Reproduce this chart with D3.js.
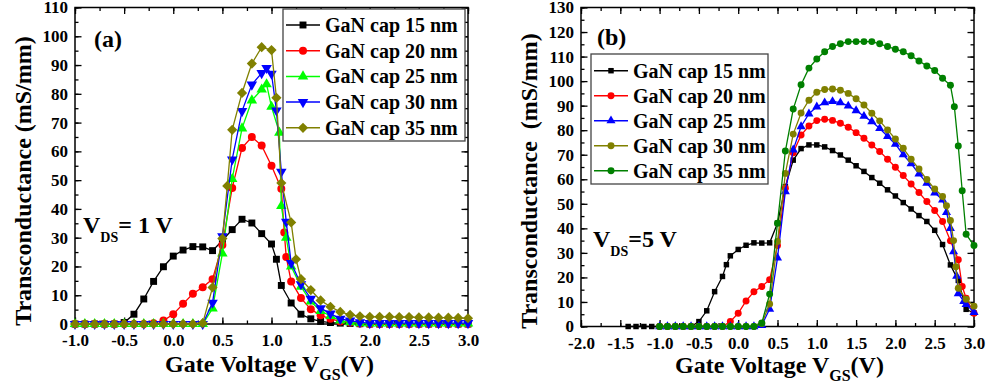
<!DOCTYPE html>
<html>
<head>
<meta charset="utf-8">
<script src="https://cdn.jsdelivr.net/npm/d3@7"></script>
<style>
  body { margin: 0; background: #fff; }
  text { font-family: "Liberation Serif", "Times New Roman", serif; font-weight: bold; fill: #000; }
  .tick text { font-size: 17px; }
</style>
</head>
<body>
<div id="chart"></div>
<script>
(function (d3) {
  'use strict';

  const capLabels = ["GaN cap 15 nm", "GaN cap 20 nm", "GaN cap 25 nm", "GaN cap 30 nm", "GaN cap 35 nm"];

  // panel (a), VDS = 1 V : [VGS (V), gm (mS/mm)]
  const gmA15 = [[-1.0,0],[-0.9,0],[-0.8,0],[-0.7,0],[-0.6,0],[-0.5,0.5],[-0.4,3.4],[-0.3,8.7],[-0.2,14.8],[-0.1,19.9],[0.0,23.6],[0.1,25.7],[0.2,26.9],[0.3,26.8],[0.4,25.5],[0.5,29.0],[0.6,32.8],[0.7,36.4],[0.8,35.1],[0.9,31.4],[1.0,27.8],[1.05,22.5],[1.1,13.4],[1.2,7.3],[1.3,3.4],[1.4,1.8],[1.5,0.9],[1.6,0.5],[1.7,0.3],[1.8,0.2],[1.9,0.1],[2.0,0],[2.1,0],[2.2,0],[2.3,0],[2.4,0],[2.5,0],[2.6,0],[2.7,0],[2.8,0],[2.9,0],[3.0,0]];
  const gmA20 = [[-1.0,0],[-0.9,0],[-0.8,0],[-0.7,0],[-0.6,0],[-0.5,0],[-0.4,0],[-0.3,0],[-0.2,0.3],[-0.1,1.2],[0.0,3.4],[0.1,7.0],[0.2,10.5],[0.3,12.8],[0.4,15.6],[0.5,27.5],[0.6,47.3],[0.7,61.2],[0.8,65.0],[0.9,62.0],[1.0,55.0],[1.1,47.0],[1.13,31.8],[1.15,23.3],[1.2,14.8],[1.3,9.0],[1.4,5.1],[1.5,3.0],[1.6,1.8],[1.7,0.9],[1.8,0.5],[1.9,0.2],[2.0,0],[2.1,0],[2.2,0],[2.3,0],[2.4,0],[2.5,0],[2.6,0],[2.7,0],[2.8,0],[2.9,0],[3.0,0]];
  const gmA25 = [[-1.0,0],[-0.9,0],[-0.8,0],[-0.7,0],[-0.6,0],[-0.5,0],[-0.4,0],[-0.3,0],[-0.2,0],[-0.1,0],[0.0,0],[0.1,0],[0.2,0],[0.3,0],[0.4,5.4],[0.5,24.5],[0.6,50.4],[0.7,68.0],[0.8,77.7],[0.9,81.5],[0.95,83.3],[1.0,75.5],[1.08,66.5],[1.1,41.0],[1.15,30.0],[1.2,20.0],[1.3,13.0],[1.4,7.8],[1.5,4.5],[1.6,2.8],[1.7,1.2],[1.8,0.6],[1.9,0.3],[2.0,0.2],[2.1,0.2],[2.2,0.2],[2.3,0.2],[2.4,0.2],[2.5,0.2],[2.6,0.2],[2.7,0.2],[2.8,0.2],[2.9,0.2],[3.0,0.2]];
  const gmA30 = [[-1.0,0],[-0.9,0],[-0.8,0],[-0.7,0],[-0.6,0],[-0.5,0],[-0.4,0],[-0.3,0],[-0.2,0],[-0.1,0],[0.0,0],[0.1,0],[0.2,0],[0.3,0],[0.4,7.4],[0.5,30.5],[0.6,57.2],[0.7,74.0],[0.8,83.2],[0.9,87.2],[0.95,89.0],[1.0,87.0],[1.05,74.2],[1.1,52.9],[1.15,35.5],[1.2,21.2],[1.3,13.8],[1.4,8.8],[1.5,5.5],[1.6,3.6],[1.7,1.8],[1.8,1.2],[1.9,0.6],[2.0,0.3],[2.1,0.3],[2.2,0.3],[2.3,0.3],[2.4,0.3],[2.5,0.3],[2.6,0.3],[2.7,0.3],[2.8,0.3],[2.9,0.3],[3.0,0.3]];
  const gmA35 = [[-1.0,0],[-0.9,0],[-0.8,0],[-0.7,0],[-0.6,0],[-0.5,0],[-0.4,0],[-0.3,0],[-0.2,0],[-0.1,0],[0.0,0],[0.1,0],[0.2,0],[0.3,0.3],[0.4,12.7],[0.5,29.7],[0.55,48.0],[0.6,67.5],[0.7,80.3],[0.8,90.5],[0.9,96.2],[1.0,95.2],[1.05,78.6],[1.1,49.0],[1.2,35.3],[1.25,22.5],[1.3,15.6],[1.4,11.8],[1.5,8.2],[1.6,6.0],[1.7,4.2],[1.8,3.2],[1.9,2.7],[2.0,2.5],[2.1,2.5],[2.2,2.5],[2.3,2.4],[2.4,2.4],[2.5,2.3],[2.6,2.3],[2.7,2.2],[2.8,2.2],[2.9,2.1],[3.0,2.0]];

  // panel (b), VDS = 5 V
  const gmB15 = [[-1.4,0],[-1.3,0],[-1.2,0],[-1.1,0],[-1.0,0],[-0.9,0],[-0.8,0],[-0.7,0],[-0.6,0],[-0.5,2.0],[-0.4,6.4],[-0.3,14.2],[-0.2,20.4],[-0.15,25.2],[-0.1,28.8],[0.0,31.4],[0.1,33.1],[0.2,34.1],[0.3,34.0],[0.4,34.1],[0.5,42.1],[0.6,57.0],[0.7,67.8],[0.8,72.5],[0.9,74.0],[1.0,74.0],[1.1,73.2],[1.2,71.7],[1.3,69.9],[1.4,67.8],[1.5,65.5],[1.6,63.2],[1.7,60.7],[1.8,58.4],[1.9,55.7],[2.0,53.2],[2.1,50.5],[2.2,47.9],[2.3,45.2],[2.4,42.8],[2.5,39.2],[2.6,33.4],[2.7,25.1],[2.8,18.8],[2.9,7.0],[3.0,5.5]];
  const gmB20 = [[-1.0,0],[-0.9,0],[-0.8,0],[-0.7,0],[-0.6,0],[-0.5,0],[-0.4,0],[-0.3,0],[-0.2,0],[-0.1,2.0],[0.0,5.4],[0.1,10.4],[0.2,14.2],[0.3,16.3],[0.4,19.1],[0.5,33.0],[0.6,56.3],[0.7,70.8],[0.8,78.0],[0.9,81.7],[1.0,83.9],[1.1,84.5],[1.2,84.0],[1.3,82.8],[1.4,81.2],[1.5,79.0],[1.6,76.7],[1.7,74.0],[1.8,71.3],[1.9,68.2],[2.0,64.9],[2.1,61.5],[2.2,58.1],[2.3,54.6],[2.4,50.9],[2.5,47.3],[2.6,42.8],[2.7,34.9],[2.8,27.2],[2.85,16.3],[2.9,11.5],[3.0,5.4]];
  const gmB25 = [[-1.0,0],[-0.9,0],[-0.8,0],[-0.7,0],[-0.6,0],[-0.5,0],[-0.4,0],[-0.3,0],[-0.2,0],[-0.1,0],[0.0,0],[0.1,0],[0.2,0],[0.3,0.5],[0.4,7.1],[0.5,28.0],[0.6,55.0],[0.7,72.0],[0.8,81.5],[0.9,86.7],[1.0,89.5],[1.1,91.2],[1.2,91.7],[1.3,91.2],[1.4,89.9],[1.5,88.0],[1.6,85.7],[1.7,83.5],[1.8,80.7],[1.9,77.5],[2.0,74.3],[2.1,70.0],[2.2,66.4],[2.3,62.2],[2.4,58.4],[2.5,54.5],[2.6,51.6],[2.65,46.5],[2.7,40.0],[2.74,30.5],[2.78,20.5],[2.8,13.4],[2.87,10.2],[2.9,9.0],[3.0,5.8]];
  const gmB30 = [[-1.0,0],[-0.9,0],[-0.8,0],[-0.7,0],[-0.6,0],[-0.5,0],[-0.4,0],[-0.3,0],[-0.2,0],[-0.1,0],[0.0,0],[0.1,0],[0.2,0],[0.3,1.2],[0.4,9.2],[0.5,34.6],[0.6,62.4],[0.7,78.4],[0.8,87.0],[0.9,92.2],[1.0,95.5],[1.1,96.6],[1.2,96.8],[1.3,96.3],[1.4,95.0],[1.5,92.8],[1.6,90.3],[1.7,86.9],[1.8,83.8],[1.9,80.1],[2.0,76.4],[2.1,72.6],[2.2,68.2],[2.3,64.2],[2.4,59.9],[2.5,56.0],[2.6,53.0],[2.65,49.2],[2.7,43.2],[2.74,35.0],[2.77,24.4],[2.8,15.6],[2.9,11.1],[3.0,8.3]];
  const gmB35 = [[-1.0,0],[-0.9,0],[-0.8,0],[-0.7,0],[-0.6,0],[-0.5,0],[-0.4,0],[-0.3,0],[-0.2,0],[-0.1,0],[0.0,0],[0.1,0],[0.2,0],[0.3,1.4],[0.4,13.2],[0.5,42.1],[0.6,71.5],[0.7,88.6],[0.8,98.5],[0.9,105.3],[1.0,109.0],[1.1,112.0],[1.2,114.1],[1.3,115.2],[1.4,116.1],[1.5,116.1],[1.6,116.1],[1.7,116.1],[1.8,115.2],[1.9,114.1],[2.0,113.0],[2.1,112.0],[2.2,110.3],[2.3,108.2],[2.4,106.2],[2.5,104.3],[2.6,101.2],[2.7,98.3],[2.75,89.6],[2.8,73.6],[2.85,55.3],[2.9,37.6],[3.0,33.0]];

  const xTicksA = [-1.0, -0.5, 0.0, 0.5, 1.0, 1.5, 2.0, 2.5, 3.0];
  const xLabelsA = ["-1.0", "-0.5", "0.0", "0.5", "1.0", "1.5", "2.0", "2.5", "3.0"];
  const yTicksA = [0, 10, 20, 30, 40, 50, 60, 70, 80, 90, 100, 110];
  const xTicksB = [-2.0, -1.5, -1.0, -0.5, 0.0, 0.5, 1.0, 1.5, 2.0, 2.5, 3.0];
  const xLabelsB = ["-2.0", "-1.5", "-1.0", "-0.5", "0.0", "0.5", "1.0", "1.5", "2.0", "2.5", "3.0"];
  const yTicksB = [0, 10, 20, 30, 40, 50, 60, 70, 80, 90, 100, 110, 120, 130];

  var width = 989,
      height = 388;

  var svg = d3.select("#chart").append("svg")
      .attr("width", width)
      .attr("height", height);

  svg.append("rect")
      .attr("width", width)
      .attr("height", height)
      .attr("fill", "#fff");

  function markerPath(shape, size) {
    var type = {
      square: d3.symbolSquare, circle: d3.symbolCircle,
      up: d3.symbolTriangle, down: d3.symbolTriangle, diamond: d3.symbolSquare
    }[shape];
    return d3.symbol().type(type).size(size)();
  }
  function markerRot(shape) {
    if (shape === "down") return " rotate(180)";
    if (shape === "diamond") return " rotate(45)";
    return "";
  }

  function drawPanel(p) {
    var x = d3.scaleLinear().domain(p.xDomain).range(p.xRange),
        y = d3.scaleLinear().domain(p.yDomain).range(p.yRange);
    var x0 = p.xRange[0], x1 = p.xRange[1], y0 = p.yRange[0], y1 = p.yRange[1];
    var g = svg.append("g");

    var xMinor = d3.range(p.xDomain[0], p.xDomain[1] + 0.01, 0.25);
    var yMinor = d3.range(p.yDomain[0], p.yDomain[1] + 0.01, 5);

    function clean(sel) {
      sel.select(".domain").remove();
      sel.selectAll(".tick line").attr("stroke", "#000").attr("stroke-width", 1.3);
    }

    // minor ticks, all four sides, pointing inward
    g.append("g").attr("transform", "translate(0," + y0 + ")")
      .call(d3.axisBottom(x).tickValues(xMinor).tickSize(-3.5).tickFormat("")).call(clean);
    g.append("g").attr("transform", "translate(0," + y1 + ")")
      .call(d3.axisTop(x).tickValues(xMinor).tickSize(-3.5).tickFormat("")).call(clean);
    g.append("g").attr("transform", "translate(" + x0 + ",0)")
      .call(d3.axisLeft(y).tickValues(yMinor).tickSize(-3.5).tickFormat("")).call(clean);
    g.append("g").attr("transform", "translate(" + x1 + ",0)")
      .call(d3.axisRight(y).tickValues(yMinor).tickSize(-3.5).tickFormat("")).call(clean);

    // major ticks
    g.append("g").attr("transform", "translate(0," + y0 + ")")
      .call(d3.axisBottom(x).tickValues(p.xTicks).tickSize(-6.5).tickPadding(10)
        .tickFormat(function (d, i) { return p.xLabels[i]; })).call(clean);
    g.append("g").attr("transform", "translate(0," + y1 + ")")
      .call(d3.axisTop(x).tickValues(p.xTicks).tickSize(-6.5).tickFormat("")).call(clean);
    g.append("g").attr("transform", "translate(" + x0 + ",0)")
      .call(d3.axisLeft(y).tickValues(p.yTicks).tickSize(-6.5).tickPadding(7)).call(clean);
    g.append("g").attr("transform", "translate(" + x1 + ",0)")
      .call(d3.axisRight(y).tickValues(p.yTicks).tickSize(-6.5).tickFormat("")).call(clean);

    g.append("rect")
      .attr("x", x0).attr("y", y1)
      .attr("width", x1 - x0).attr("height", y0 - y1)
      .attr("fill", "none").attr("stroke", "#000").attr("stroke-width", 1.5);

    var line = d3.line()
      .x(function (d) { return x(d[0]); })
      .y(function (d) { return y(d[1]); });

    p.series.forEach(function (s) {
      g.append("path").datum(s.data)
        .attr("fill", "none")
        .attr("stroke", s.color)
        .attr("stroke-width", 1.3)
        .attr("d", line);
      g.selectAll(null).data(s.data).enter()
        .append("path")
          .attr("transform", function (d) { return "translate(" + x(d[0]) + "," + y(d[1]) + ")" + markerRot(s.shape); })
          .attr("d", markerPath(s.shape, p.markSize[s.shape]))
          .attr("fill", s.color);
    });

    // legend
    var lg = p.legend;
    g.append("rect")
      .attr("x", lg.x).attr("y", lg.y)
      .attr("width", lg.w).attr("height", lg.h)
      .attr("fill", "#fff").attr("stroke", "#444").attr("stroke-width", 1.3);
    p.series.forEach(function (s, i) {
      var cy = lg.y + lg.first + i * lg.step;
      g.append("line")
        .attr("x1", lg.x + 3).attr("x2", lg.x + 37)
        .attr("y1", cy).attr("y2", cy)
        .attr("stroke", s.color).attr("stroke-width", 1.5);
      g.append("path")
        .attr("transform", "translate(" + (lg.x + 20) + "," + cy + ")" + markerRot(s.shape))
        .attr("d", markerPath(s.shape, p.markSize[s.shape]))
        .attr("fill", s.color);
      g.append("text")
        .attr("x", lg.x + 42).attr("y", cy + 7)
        .attr("font-size", 20)
        .text(capLabels[i]);
    });

    // panel tag
    g.append("text").attr("x", p.tag.x).attr("y", p.tag.y)
      .attr("font-size", 24).text(p.tag.text);

    // VDS note
    var vt = g.append("text").attr("x", p.vds.x).attr("y", p.vds.y)
      .attr("font-size", 24).style("white-space", "pre");
    vt.append("tspan").text("V");
    vt.append("tspan").attr("dy", 9).attr("font-size", 14).text("DS");
    vt.append("tspan").attr("dy", -9).text(p.vds.rest);

    // axis titles
    var xt = g.append("text").attr("x", p.xTitle.x).attr("y", p.xTitle.y)
      .attr("font-size", 24);
    xt.append("tspan").text("Gate Voltage V");
    xt.append("tspan").attr("dy", 8).attr("font-size", 16).text("GS");
    xt.append("tspan").attr("dy", -8).text("(V)");

    g.append("text")
      .attr("transform", "translate(" + p.yTitle.x + "," + p.yTitle.y + ") rotate(-90)")
      .attr("text-anchor", "middle")
      .attr("font-size", 24)
      .style("white-space", "pre")
      .text(p.yTitle.text);
  }

  drawPanel({
    xDomain: [-1, 3], xRange: [75, 468],
    yDomain: [0, 110], yRange: [324, 7.5],
    xTicks: xTicksA, xLabels: xLabelsA, yTicks: yTicksA,
    markSize: { square: 48, circle: 50, up: 48, down: 48, diamond: 52 },
    series: [
      { data: gmA15, color: "#000000", shape: "square" },
      { data: gmA20, color: "#ff0000", shape: "circle" },
      { data: gmA25, color: "#00ff00", shape: "up" },
      { data: gmA30, color: "#0000ff", shape: "down" },
      { data: gmA35, color: "#808000", shape: "diamond" }
    ],
    legend: { x: 283, y: 9, w: 182, h: 132, first: 16, step: 25.7 },
    tag: { x: 94, y: 47, text: "(a)" },
    vds: { x: 83, y: 233, rest: "= 1 V" },
    xTitle: { x: 165, y: 372 },
    yTitle: { x: 31, y: 181, text: "Transconductance (mS/mm)" }
  });

  drawPanel({
    xDomain: [-2, 3], xRange: [581, 974],
    yDomain: [0, 130], yRange: [326.5, 7.5],
    xTicks: xTicksB, xLabels: xLabelsB, yTicks: yTicksB,
    markSize: { square: 30, circle: 38, up: 36, down: 36, diamond: 40 },
    series: [
      { data: gmB15, color: "#000000", shape: "square" },
      { data: gmB20, color: "#ff0000", shape: "circle" },
      { data: gmB25, color: "#0000ff", shape: "up" },
      { data: gmB30, color: "#808000", shape: "circle" },
      { data: gmB35, color: "#008000", shape: "circle" }
    ],
    legend: { x: 591, y: 54, w: 177, h: 130, first: 16.7, step: 25 },
    tag: { x: 597, y: 45, text: "(b)" },
    vds: { x: 593, y: 247, rest: "=5 V" },
    xTitle: { x: 675, y: 373 },
    yTitle: { x: 537, y: 181, text: "Transconductance  (mS/mm)" }
  });
})(d3);
</script>
</body>
</html>
